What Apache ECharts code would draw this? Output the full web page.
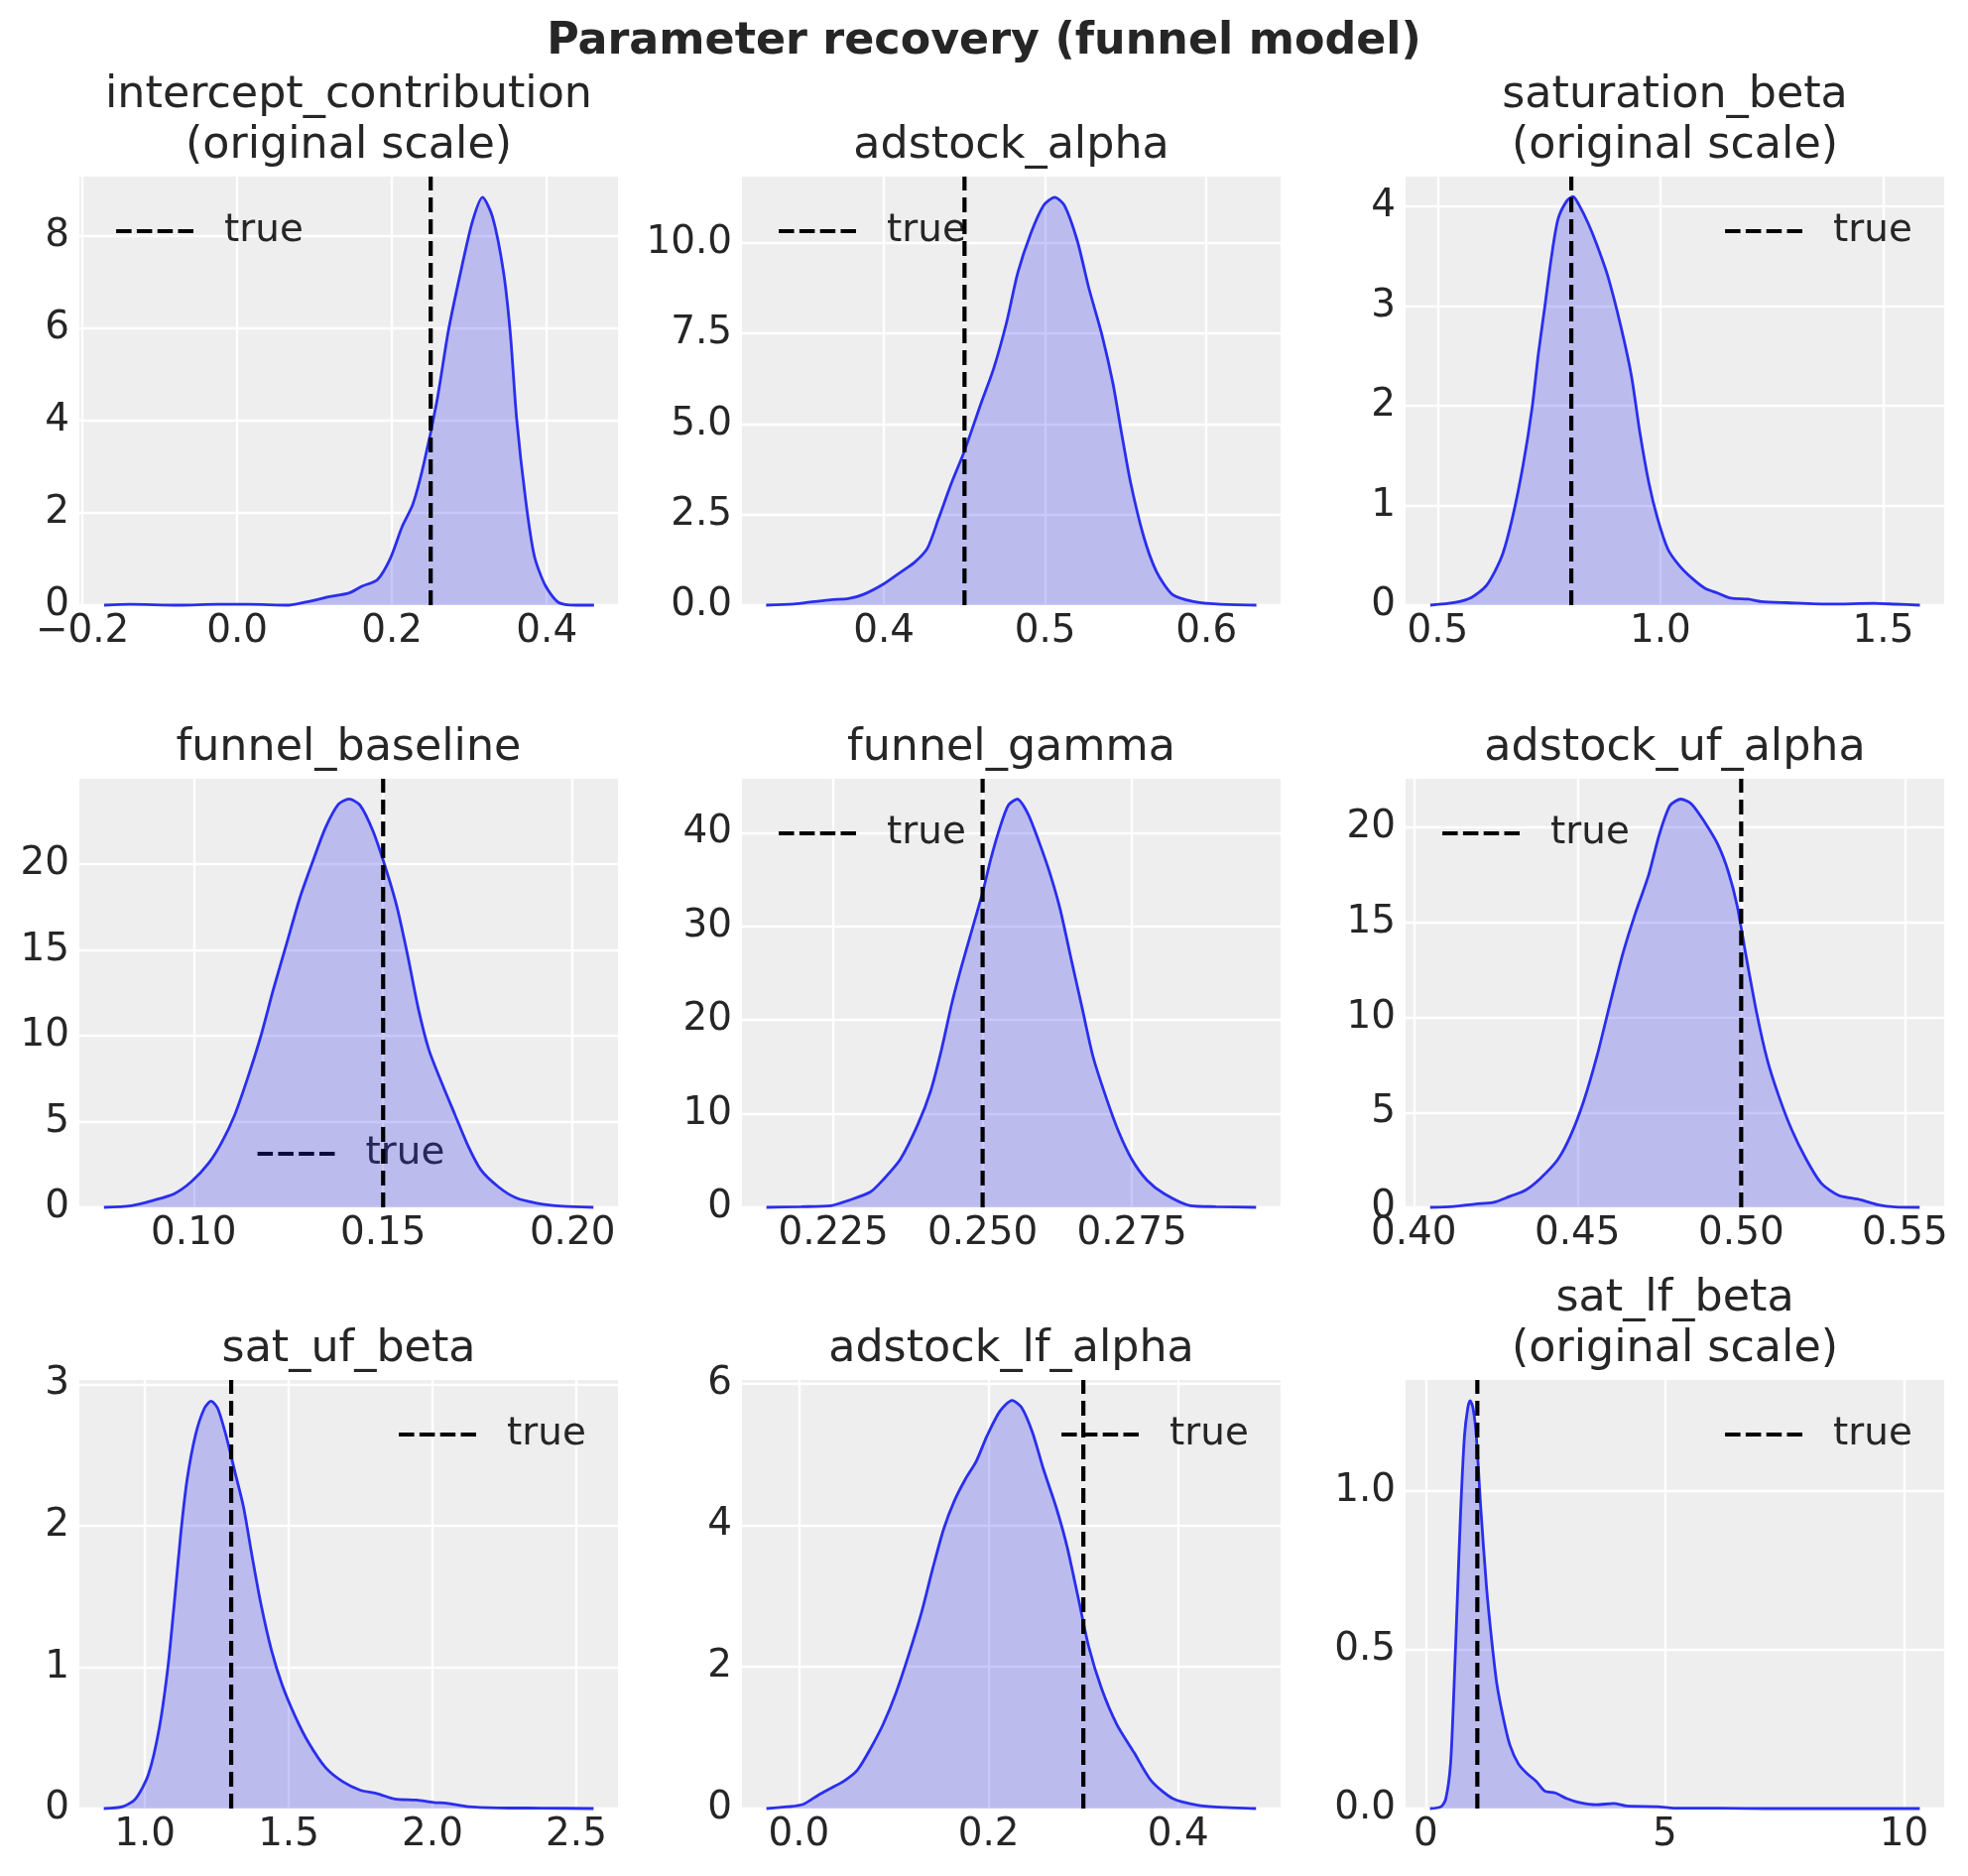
<!DOCTYPE html>
<html>
<head>
<meta charset="UTF-8">
<title>Parameter recovery (funnel model)</title>
<script src="https://cdn.jsdelivr.net/npm/echarts@6/dist/echarts.min.js"></script>
<style>
	html, body { margin: 0; padding: 0; background: #ffffff; }
	#chart { width: 1984px; height: 1891px; }
</style>
</head>
<body>
	<div id="chart"></div>

	<script type="text/javascript">
		// panel titles and true values
		var names = ['intercept_contribution\n(original scale)', 'adstock_alpha', 'saturation_beta\n(original scale)',
			'funnel_baseline', 'funnel_gamma', 'adstock_uf_alpha',
			'sat_uf_beta', 'adstock_lf_alpha', 'sat_lf_beta\n(original scale)'];
		var trueValues = [0.25, 0.45, 0.80, 0.15, 0.25, 0.50, 1.30, 0.30, 1.08];

		// posterior densities
		var interceptX = [-0.172, -0.139, -0.076, -0.025, 0.015, 0.067, 0.095, 0.118, 0.144, 0.161, 0.181, 0.198, 0.213, 0.227, 0.241, 0.258, 0.273, 0.290, 0.304, 0.317, 0.330, 0.344, 0.353, 0.361, 0.373, 0.384, 0.398, 0.415, 0.438, 0.461];
		var interceptY = [0, 0.02, 0, 0.02, 0.02, 0, 0.09, 0.18, 0.26, 0.41, 0.55, 1.02, 1.70, 2.19, 3.06, 4.42, 5.96, 7.32, 8.32, 8.84, 8.41, 7.23, 5.87, 4.05, 2.24, 1.06, 0.43, 0.06, 0, 0];

		var adstockX = [0.327, 0.344, 0.357, 0.367, 0.378, 0.387, 0.400, 0.411, 0.419, 0.427, 0.434, 0.442, 0.450, 0.460, 0.468, 0.476, 0.483, 0.491, 0.499, 0.506, 0.512, 0.520, 0.527, 0.535, 0.542, 0.547, 0.553, 0.561, 0.569, 0.579, 0.592, 0.607, 0.631];
		var adstockY = [0, 0.03, 0.10, 0.15, 0.18, 0.29, 0.59, 0.93, 1.18, 1.57, 2.40, 3.38, 4.26, 5.54, 6.52, 7.79, 9.17, 10.25, 11.03, 11.26, 11.03, 10.05, 8.77, 7.50, 6.13, 4.85, 3.38, 1.91, 0.93, 0.29, 0.10, 0.03, 0];

		var saturationX = [0.4835, 0.537, 0.576, 0.610, 0.644, 0.668, 0.692, 0.712, 0.726, 0.741, 0.755, 0.770, 0.789, 0.804, 0.818, 0.838, 0.857, 0.882, 0.911, 0.935, 0.954, 0.974, 0.993, 1.017, 1.042, 1.071, 1.100, 1.129, 1.158, 1.197, 1.226, 1.284, 1.382, 1.479, 1.527, 1.5825];
		var saturationY = [0, 0.025, 0.078, 0.20, 0.49, 0.88, 1.41, 1.98, 2.52, 3.01, 3.48, 3.87, 4.05, 4.10, 4.01, 3.83, 3.62, 3.30, 2.80, 2.30, 1.73, 1.23, 0.88, 0.56, 0.40, 0.27, 0.17, 0.12, 0.07, 0.06, 0.036, 0.025, 0.011, 0.018, 0.01, 0];

		var baselineX = [0.0763, 0.0835, 0.0892, 0.0949, 0.0994, 0.1040, 0.1074, 0.1108, 0.1143, 0.1177, 0.1211, 0.1245, 0.1279, 0.1314, 0.1348, 0.1382, 0.1410, 0.1439, 0.1473, 0.1507, 0.1536, 0.1564, 0.1593, 0.1621, 0.1656, 0.1690, 0.1724, 0.1758, 0.1804, 0.1850, 0.1906, 0.1974, 0.2055];
		var baselineY = [0, 0.10, 0.40, 0.80, 1.50, 2.59, 3.79, 5.38, 7.58, 9.97, 12.76, 15.35, 17.95, 20.14, 22.13, 23.49, 23.79, 23.43, 21.93, 19.74, 17.55, 14.76, 11.57, 9.17, 7.18, 5.38, 3.59, 2.19, 1.20, 0.56, 0.24, 0.06, 0];

		var gammaX = [0.2138, 0.2196, 0.2246, 0.2275, 0.2312, 0.2333, 0.2362, 0.2391, 0.2413, 0.2431, 0.2449, 0.2464, 0.2482, 0.2500, 0.2514, 0.2529, 0.2543, 0.2558, 0.2576, 0.2594, 0.2612, 0.2630, 0.2649, 0.2667, 0.2685, 0.2707, 0.2728, 0.2750, 0.2775, 0.2804, 0.2848, 0.2891, 0.2958];
		var gammaY = [0, 0.07, 0.18, 0.73, 1.64, 2.92, 5.11, 8.77, 12.42, 16.80, 21.92, 25.57, 29.59, 33.61, 37.26, 40.55, 42.92, 43.58, 42.01, 39.09, 35.80, 31.78, 26.30, 21.19, 16.07, 11.69, 8.04, 5.11, 2.92, 1.46, 0.18, 0.07, 0];

		var ufAlphaX = [0.4050, 0.4123, 0.4189, 0.4242, 0.4294, 0.4341, 0.4387, 0.4440, 0.4479, 0.4519, 0.4559, 0.4598, 0.4638, 0.4677, 0.4717, 0.4750, 0.4783, 0.4816, 0.4849, 0.4889, 0.4929, 0.4961, 0.4988, 0.5014, 0.5047, 0.5080, 0.5113, 0.5153, 0.5199, 0.5245, 0.5298, 0.5364, 0.5417, 0.5470, 0.5545];
		var ufAlphaY = [0, 0.05, 0.18, 0.25, 0.58, 0.90, 1.53, 2.52, 3.78, 5.59, 7.93, 10.63, 13.33, 15.50, 17.48, 19.64, 21.17, 21.50, 21.23, 20.27, 19.10, 17.66, 15.86, 13.33, 10.27, 7.75, 5.95, 4.14, 2.52, 1.26, 0.63, 0.40, 0.14, 0.02, 0];

		var ufBetaX = [0.857, 0.922, 0.967, 1.012, 1.050, 1.080, 1.102, 1.125, 1.147, 1.177, 1.207, 1.230, 1.253, 1.283, 1.313, 1.343, 1.373, 1.403, 1.440, 1.478, 1.523, 1.568, 1.628, 1.688, 1.749, 1.809, 1.869, 1.944, 2.004, 2.049, 2.124, 2.229, 2.380, 2.560];
		var ufBetaY = [0, 0.013, 0.068, 0.24, 0.57, 1.00, 1.45, 1.95, 2.33, 2.65, 2.83, 2.88, 2.83, 2.63, 2.38, 2.13, 1.78, 1.45, 1.12, 0.87, 0.65, 0.47, 0.29, 0.19, 0.13, 0.105, 0.068, 0.060, 0.043, 0.038, 0.013, 0.005, 0.003, 0];

		var lfAlphaX = [-0.0342, -0.0114, 0.0046, 0.0205, 0.0342, 0.0479, 0.0616, 0.0753, 0.0889, 0.1026, 0.1163, 0.1300, 0.1414, 0.1528, 0.1642, 0.1756, 0.1870, 0.1984, 0.2121, 0.2249, 0.2349, 0.2463, 0.2577, 0.2714, 0.2828, 0.2942, 0.3056, 0.3193, 0.3352, 0.3535, 0.3717, 0.3945, 0.4219, 0.4493, 0.4821];
		var lfAlphaY = [0, 0.025, 0.06, 0.19, 0.29, 0.39, 0.54, 0.84, 1.19, 1.64, 2.19, 2.80, 3.40, 3.95, 4.35, 4.65, 4.90, 5.26, 5.61, 5.76, 5.66, 5.31, 4.80, 4.25, 3.70, 3.00, 2.29, 1.69, 1.19, 0.79, 0.39, 0.14, 0.045, 0.015, 0];

		var lfBetaX = [0.09, 0.32, 0.42, 0.52, 0.59, 0.66, 0.73, 0.81, 0.88, 0.93, 0.99, 1.06, 1.15, 1.27, 1.38, 1.49, 1.63, 1.76, 1.94, 2.12, 2.31, 2.49, 2.71, 2.94, 3.21, 3.57, 3.93, 4.20, 4.84, 5.29, 6.19, 7.10, 10.33];
		var lfBetaY = [0, 0.006, 0.03, 0.14, 0.37, 0.65, 0.93, 1.17, 1.26, 1.283, 1.26, 1.17, 0.95, 0.70, 0.53, 0.39, 0.28, 0.20, 0.14, 0.11, 0.086, 0.055, 0.049, 0.032, 0.019, 0.012, 0.016, 0.008, 0.006, 0.001, 0.001, 0, 0];

		var curvesX = [interceptX, adstockX, saturationX, baselineX, gammaX, ufAlphaX, ufBetaX, lfAlphaX, lfBetaX];
		var curvesY = [interceptY, adstockY, saturationY, baselineY, gammaY, ufAlphaY, ufBetaY, lfAlphaY, lfBetaY];

		// axes: limits, ticks and label decimals
		var xLimits = [[-0.204, 0.492], [0.312, 0.646], [0.428, 1.637], [0.0698, 0.2120], [0.2097, 0.2999], [0.3975, 0.562], [0.772, 2.645], [-0.060, 0.508], [-0.42, 10.84]];
		var yTops = [9.29, 11.83, 4.30, 24.97, 45.75, 22.57, 3.03, 6.05, 1.348];
		var xTicks = [[-0.2, 0, 0.2, 0.4], [0.4, 0.5, 0.6], [0.5, 1.0, 1.5], [0.10, 0.15, 0.20], [0.225, 0.250, 0.275], [0.40, 0.45, 0.50, 0.55], [1.0, 1.5, 2.0, 2.5], [0, 0.2, 0.4], [0, 5, 10]];
		var xDecimals = [1, 1, 1, 2, 3, 2, 1, 1, 0];
		var yTicks = [[0, 2, 4, 6, 8], [0, 2.5, 5, 7.5, 10], [0, 1, 2, 3, 4], [0, 5, 10, 15, 20], [0, 10, 20, 30, 40], [0, 5, 10, 15, 20], [0, 1, 2, 3], [0, 2, 4, 6], [0, 0.5, 1.0]];
		var yDecimals = [0, 1, 0, 0, 0, 0, 0, 0, 1];
		var legendSpots = ['upperleft', 'upperleft', 'upperright', 'lowercenter', 'upperleft', 'upperleft', 'upperright', 'upperright', 'upperright'];

		window.onload = iniPage;

		function iniPage(){
			drawChart();
		}

		function pairs(xs, ys){
			var out = [];
			for(var i=0; i<xs.length; i++){
				out.push([xs[i], ys[i]]);
			}
			return out;
		}

		function fmt(dec){
			return function(v){
				return v.toFixed(dec).replace('-', '\u2212');
			};
		}

		function drawChart(){
			var myChart = echarts.init(document.getElementById('chart'), null, {renderer: 'canvas'});

			var font = 'DejaVu Sans';
			var textColor = '#262626';
			var kdeColor = '#2a2eec';
			var colLeft = [80, 748, 1417];
			var rowTop = [178, 785, 1391];
			var plotW = 543, plotH = 432;

			var grids = [], xAxes = [], yAxes = [], series = [], titles = [], legends = [];

			titles.push({
				text: 'Parameter recovery (funnel model)',
				left: 992, top: 68, padding: 0,
				textAlign: 'center', textVerticalAlign: 'bottom',
				textStyle: {fontFamily: font, fontSize: 44.4, fontWeight: 'bold', color: textColor, lineHeight: 51}
			});

			for(var i=0; i<9; i++){
				var left = colLeft[i % 3];
				var top = rowTop[Math.floor(i / 3)];

				grids.push({
					left: left, top: top, width: plotW, height: plotH,
					show: true, backgroundColor: '#eeeeee', borderWidth: 0,
					outerBoundsMode: 'none'
				});

				xAxes.push({
					type: 'value', gridIndex: i,
					min: xLimits[i][0], max: xLimits[i][1],
					axisLine: {show: false},
					axisTick: {show: false, customValues: xTicks[i]},
					axisLabel: {customValues: xTicks[i], formatter: fmt(xDecimals[i]), margin: 7,
						fontFamily: font, fontSize: 38.9, color: textColor},
					splitLine: {show: true, lineStyle: {color: '#ffffff', width: 2.4}}
				});

				yAxes.push({
					type: 'value', gridIndex: i,
					min: 0, max: yTops[i],
					axisLine: {show: false},
					axisTick: {show: false, customValues: yTicks[i]},
					axisLabel: {customValues: yTicks[i], formatter: fmt(yDecimals[i]), margin: 10,
						fontFamily: font, fontSize: 38.9, color: textColor},
					splitLine: {show: true, lineStyle: {color: '#ffffff', width: 2.4}}
				});

				series.push({
					type: 'line', name: 'kde', xAxisIndex: i, yAxisIndex: i,
					data: pairs(curvesX[i], curvesY[i]),
					symbol: 'none', smooth: 0.25, clip: false,
					lineStyle: {color: kdeColor, width: 2.8},
					itemStyle: {color: kdeColor},
					areaStyle: {color: kdeColor, opacity: 0.26, origin: 'start'},
					z: 2
				});

				series.push({
					type: 'line', name: 'true', xAxisIndex: i, yAxisIndex: i,
					data: [[trueValues[i], 0], [trueValues[i], yTops[i]]],
					symbol: 'none', showSymbol: false, clip: false,
					lineStyle: {color: '#000000', width: 4.2, type: [15, 7]},
					itemStyle: {color: '#000000'},
					z: 3
				});

				titles.push({
					text: names[i],
					left: left + plotW / 2, top: top - 5, padding: 0,
					textAlign: 'center', textVerticalAlign: 'bottom',
					textStyle: {fontFamily: font, fontSize: 44.4, fontWeight: 'normal', color: textColor, lineHeight: 51}
				});

				var lx, ly;
				if(legendSpots[i] === 'upperleft'){
					lx = left + 35; ly = top + 33;
				}else if(legendSpots[i] === 'upperright'){
					lx = left + plotW - 223; ly = top + 33;
				}else{
					lx = left + plotW / 2 - 94; ly = top + plotH - 76;
				}
				legends.push({
					data: ['true'], left: lx, top: ly, padding: 0,
					orient: 'horizontal', selectedMode: false, z: 1,
					icon: 'inherit',
					itemWidth: 78, itemHeight: 20,
					itemStyle: {opacity: 0},
					lineStyle: {color: '#000000', width: 4.2, type: [15.5, 5.3], opacity: 1},
					textStyle: {fontFamily: font, fontSize: 38.9, color: textColor, lineHeight: 44, padding: [0, 0, 0, 26]}
				});
			}

			var option = {
				backgroundColor: '#ffffff',
				animation: false,
				title: titles,
				legend: legends,
				grid: grids,
				xAxis: xAxes,
				yAxis: yAxes,
				series: series
			};

			myChart.setOption(option);
		}
	</script>
</body>
</html>
